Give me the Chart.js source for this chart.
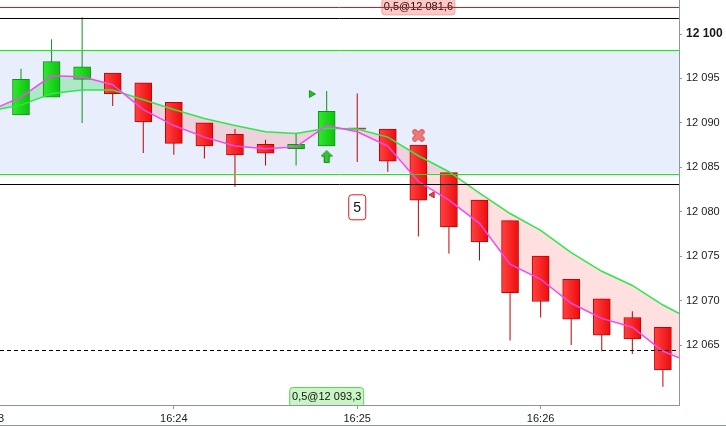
<!DOCTYPE html>
<html>
<head>
<meta charset="utf-8">
<script src="https://cdn.jsdelivr.net/npm/chart.js@4.4.1/dist/chart.umd.min.js"></script>
<style>
  html, body { margin: 0; padding: 0; background: #fff; }
  #wrap { width: 726px; height: 426px; }
</style>
</head>
<body>
<div id="wrap"><canvas id="candles" width="726" height="426"></canvas></div>
<script>
// 10 second candles, time = seconds after 16:23:00
var times  = [10, 20, 30, 40, 50, 60, 70, 80, 90, 100, 110, 120, 130, 140, 150, 160, 170, 180, 190, 200, 210, 220];
var opens  = [12090.9, 12092.9, 12094.9, 12095.6, 12094.5, 12092.3, 12090.0, 12088.7, 12087.6, 12087.1, 12087.4, 12089.3, 12089.3, 12087.5, 12084.4, 12081.3, 12079.0, 12075.0, 12072.4, 12070.2, 12068.1, 12067.0];
var highs  = [12096.1, 12099.4, 12101.9, 12095.6, 12094.5, 12092.3, 12090.0, 12089.3, 12088.1, 12088.9, 12093.6, 12093.3, 12089.3, 12087.5, 12084.4, 12081.3, 12079.0, 12075.0, 12072.4, 12070.2, 12068.8, 12067.0];
var lows   = [12090.9, 12092.9, 12090.0, 12091.9, 12086.6, 12086.4, 12086.0, 12082.8, 12085.2, 12085.2, 12087.4, 12085.6, 12084.5, 12077.2, 12075.3, 12074.5, 12065.5, 12068.1, 12065.0, 12064.3, 12064.0, 12060.3];
var closes = [12094.9, 12096.9, 12096.3, 12093.3, 12090.1, 12087.7, 12087.4, 12086.4, 12086.6, 12087.6, 12091.3, 12089.3, 12085.7, 12081.3, 12078.3, 12076.6, 12070.9, 12069.9, 12067.9, 12066.1, 12065.7, 12062.2];

// moving averages (one extra point on each side so the lines reach the edges)
var maTimes = [0, 10, 20, 30, 40, 50, 60, 70, 80, 90, 100, 110, 120, 130, 140, 150, 160, 170, 180, 190, 200, 210, 220, 230];
var maFast  = [12091.4, 12092.9, 12095.3, 12095.2, 12094.3, 12091.5, 12089.7, 12088.4, 12087.4, 12087.1, 12087.3, 12089.7, 12089.0, 12087.4, 12083.4, 12081.3, 12078.7, 12074.1, 12072.4, 12069.7, 12068.0, 12067.0, 12064.3, 12062.9];
var maSlow  = [12091.35, 12092.0, 12093.3, 12093.7, 12093.7, 12092.6, 12091.5, 12090.5, 12089.7, 12089.0, 12088.8, 12089.4, 12089.3, 12088.4, 12086.3, 12084.5, 12082.1, 12079.8, 12077.9, 12075.4, 12073.3, 12071.7, 12069.5, 12067.7];

var xTicks = [0, 60, 120, 180];
var yTicks = [12065, 12070, 12075, 12080, 12085, 12090, 12095, 12100];
var X_MIN = 3.13, X_MAX = 225.27;
var Y_MIN = 12058.25, Y_MAX = 12103.83;

// horizontal levels
var bandHigh = 12098.2, bandLow = 12084.3;
var redLevel = 12103.0;
var blackLevels = [12101.8, 12083.1];
var dashedLevel = 12064.4;

// trade labels and markers
var sellLabel = { t: 140, v: redLevel, text: '0,5@12 081,6' };
var buyLabel = { t: 110, text: '0,5@12 093,3' };
var countBox = { t: 120, v: 12080.5, text: '5' };
var entryTri = { t: 105, v: 12093.25 };
var upArrow = { t: 110, v: 12086.2 };
var exitCross = { t: 140, v: 12088.6 };
var exitTri = { t: 144.6, v: 12081.9 };

var FONT = 'Liberation Sans, Arial, sans-serif';

function fmtNum(v) { return String(v).replace(/\B(?=(\d{3})+(?!\d))/g, ' '); }
function fmtTime(v) { return '16:' + (23 + Math.round(v / 60)); }

function rrect(c, x, y, w, h, r) {
  c.beginPath();
  c.moveTo(x + r, y);
  c.lineTo(x + w - r, y); c.quadraticCurveTo(x + w, y, x + w, y + r);
  c.lineTo(x + w, y + h - r); c.quadraticCurveTo(x + w, y + h, x + w - r, y + h);
  c.lineTo(x + r, y + h); c.quadraticCurveTo(x, y + h, x, y + h - r);
  c.lineTo(x, y + r); c.quadraticCurveTo(x, y, x + r, y);
  c.closePath();
}

// small icons used as point styles
var arrowImg = document.createElement('canvas');
arrowImg.width = 12; arrowImg.height = 13;
(function () {
  var c = arrowImg.getContext('2d');
  c.beginPath();
  c.moveTo(6, 0.5); c.lineTo(11.5, 6); c.lineTo(8.5, 6); c.lineTo(8.5, 12.5);
  c.lineTo(3.5, 12.5); c.lineTo(3.5, 6); c.lineTo(0.5, 6); c.closePath();
  c.fillStyle = '#2ec82e'; c.fill();
  c.strokeStyle = '#138a13'; c.lineWidth = 1; c.stroke();
})();

var crossImg = document.createElement('canvas');
crossImg.width = 13; crossImg.height = 13;
(function () {
  var c = crossImg.getContext('2d');
  c.lineCap = 'round';
  c.beginPath();
  c.moveTo(3, 3); c.lineTo(10, 10); c.moveTo(10, 3); c.lineTo(3, 10);
  c.strokeStyle = '#d85a5a'; c.lineWidth = 5.5; c.stroke();
  c.strokeStyle = '#f07a7a'; c.lineWidth = 3.5; c.stroke();
})();

function isUp(i) { return closes[i] > opens[i]; }
function isDoji(i) { return closes[i] === opens[i]; }

function bodyFill(ctx) {
  var i = ctx.dataIndex;
  if (i === undefined) return '#ff2828';
  if (isDoji(i)) return '#a04848';
  var xs = ctx.chart.scales.x;
  if (!xs || !ctx.chart.chartArea) return isUp(i) ? '#18d018' : '#ff2828';
  var cx = xs.getPixelForValue(times[i]);
  var g = ctx.chart.ctx.createLinearGradient(cx - 8, 0, cx + 8, 0);
  if (isUp(i)) { g.addColorStop(0, '#2ee82e'); g.addColorStop(1, '#10c410'); }
  else { g.addColorStop(0, '#ff4040'); g.addColorStop(1, '#ee0e0e'); }
  return g;
}

var overlay = {
  id: 'overlay',
  beforeDraw: function (chart) {
    var a = chart.chartArea, y = chart.scales.y, c = chart.ctx;
    var t = y.getPixelForValue(bandHigh), b = y.getPixelForValue(bandLow);
    c.save();
    c.fillStyle = '#e8eefc';
    c.fillRect(a.left, t, a.right - a.left, b - t);
    c.restore();
  },
  afterDatasetsDraw: function (chart) {
    var a = chart.chartArea, x = chart.scales.x, y = chart.scales.y, c = chart.ctx;
    c.save();
    c.beginPath(); c.rect(a.left, a.top, a.right - a.left, a.bottom - a.top); c.clip();
    c.font = '11px ' + FONT;
    c.textAlign = 'center'; c.textBaseline = 'middle';

    // buy label at the bottom edge
    var bx = x.getPixelForValue(buyLabel.t);
    rrect(c, bx - 37, a.bottom - 17.5, 74, 20, 3);
    c.fillStyle = '#c9f5c4'; c.fill();
    c.strokeStyle = '#5ed25a'; c.lineWidth = 1; c.stroke();
    c.fillStyle = '#111'; c.fillText(buyLabel.text, bx, a.bottom - 8);

    // sell label on the red level
    var sx = x.getPixelForValue(sellLabel.t), sy = y.getPixelForValue(sellLabel.v);
    rrect(c, sx - 36.5, sy - 8.5, 73, 16, 3);
    c.fillStyle = '#fcc8c8'; c.fill();
    c.strokeStyle = '#f4a0a0'; c.stroke();
    c.fillStyle = '#111'; c.fillText(sellLabel.text, sx, sy);

    // count box
    var kx = x.getPixelForValue(countBox.t), ky = y.getPixelForValue(countBox.v);
    rrect(c, kx - 8.5, ky - 12.5, 17, 25, 3);
    c.fillStyle = '#fff'; c.fill();
    c.strokeStyle = '#e81818'; c.stroke();
    c.font = '14px ' + FONT;
    c.fillStyle = '#111'; c.fillText(countBox.text, kx, ky + 0.5);

    // horizontal levels
    function hline(v, color, dash) {
      var py = Math.round(y.getPixelForValue(v)) + 0.5;
      c.beginPath(); c.setLineDash(dash || []);
      c.moveTo(a.left, py); c.lineTo(a.right, py);
      c.strokeStyle = color; c.lineWidth = 1; c.stroke();
    }
    hline(bandHigh, '#10ee10');
    hline(bandLow, '#10ee10');
    blackLevels.forEach(function (v) { hline(v, '#000'); });
    hline(redLevel, '#e01818');
    hline(dashedLevel, '#000', [4, 3]);
    c.restore();
  },
  afterDraw: function (chart) {
    var c = chart.ctx;
    c.save();
    c.strokeStyle = '#8a96a0'; c.lineWidth = 1;
    c.beginPath(); c.moveTo(0, 425.5); c.lineTo(chart.width, 425.5); c.stroke();
    c.restore();
  }
};

new Chart(document.getElementById('candles'), {
  type: 'bar',
  data: {
    datasets: [
      {
        type: 'line', label: 'fast', order: 0,
        data: maTimes.map(function (t, i) { return { x: t, y: maFast[i] }; }),
        borderColor: '#f448f4', borderWidth: 1.5, pointRadius: 0, tension: 0,
        fill: { target: 1, above: 'rgba(40, 220, 80, 0.3)', below: 'rgba(255, 110, 110, 0.22)' }
      },
      {
        type: 'line', label: 'slow', order: 0,
        data: maTimes.map(function (t, i) { return { x: t, y: maSlow[i] }; }),
        borderColor: '#2ee84a', borderWidth: 1.5, pointRadius: 0, tension: 0, fill: false
      },
      {
        label: 'body', order: 1, grouped: false,
        data: times.map(function (t, i) { return { x: t, y: [opens[i], closes[i]] }; }),
        barThickness: 17, minBarLength: 1, borderSkipped: false,
        backgroundColor: bodyFill,
        borderColor: function (ctx) { return isUp(ctx.dataIndex) ? '#12901a' : '#c40000'; },
        borderWidth: function (ctx) { return isDoji(ctx.dataIndex) ? 0 : 1; }
      },
      {
        label: 'wick', order: 2, grouped: false,
        data: times.map(function (t, i) { return { x: t, y: [lows[i], highs[i]] }; }),
        barThickness: 1, borderWidth: 0, inflateAmount: 0,
        backgroundColor: function (ctx) { return isUp(ctx.dataIndex) ? '#12901a' : '#c00000'; }
      },
      {
        type: 'line', order: 0, showLine: false,
        data: [{ x: entryTri.t, y: entryTri.v }],
        pointStyle: 'triangle', rotation: 90, pointRadius: 4,
        backgroundColor: '#22c022', borderColor: '#1a9a1a', borderWidth: 1
      },
      {
        type: 'line', order: 0, showLine: false,
        data: [{ x: upArrow.t, y: upArrow.v }],
        pointStyle: arrowImg
      },
      {
        type: 'line', order: 0, showLine: false,
        data: [{ x: exitCross.t, y: exitCross.v }],
        pointStyle: crossImg
      },
      {
        type: 'line', order: 0, showLine: false,
        data: [{ x: exitTri.t, y: exitTri.v }],
        pointStyle: 'triangle', rotation: 270, pointRadius: 3.5,
        backgroundColor: '#e04848', borderColor: '#c02828', borderWidth: 1
      }
    ]
  },
  options: {
    responsive: false,
    maintainAspectRatio: false,
    animation: false,
    layout: { padding: 0, autoPadding: false },
    plugins: {
      legend: { display: false },
      tooltip: { enabled: false },
      filler: { propagate: false, drawTime: 'beforeDatasetsDraw' }
    },
    scales: {
      x: {
        type: 'linear', min: X_MIN, max: X_MAX, offset: false,
        grid: { drawOnChartArea: false, tickLength: 4, color: '#8a96a0', offset: false },
        border: { color: '#8a96a0' },
        ticks: {
          autoSkip: false, maxRotation: 0, padding: 3, color: '#202020',
          font: { family: FONT, size: 11 },
          callback: function (v) { return fmtTime(v); }
        },
        afterBuildTicks: function (s) { s.ticks = xTicks.map(function (v) { return { value: v }; }); },
        afterFit: function (s) { s.height = 21; s.paddingLeft = 0; s.paddingRight = 0; }
      },
      y: {
        position: 'right', min: Y_MIN, max: Y_MAX,
        grid: { drawOnChartArea: false, tickLength: 3, color: '#8a96a0' },
        border: { color: '#8a96a0' },
        ticks: {
          padding: 4, color: '#1a1a1a',
          font: function (ctx) {
            var big = ctx.tick && ctx.tick.value === 12100;
            return { family: FONT, size: big ? 12 : 11, weight: big ? 'bold' : 'normal' };
          },
          callback: function (v) { return fmtNum(v); }
        },
        afterBuildTicks: function (s) { s.ticks = yTicks.map(function (v) { return { value: v }; }); },
        afterFit: function (s) { s.width = 47; s.paddingTop = 0; s.paddingBottom = 0; }
      }
    }
  },
  plugins: [overlay]
});
</script>
</body>
</html>
